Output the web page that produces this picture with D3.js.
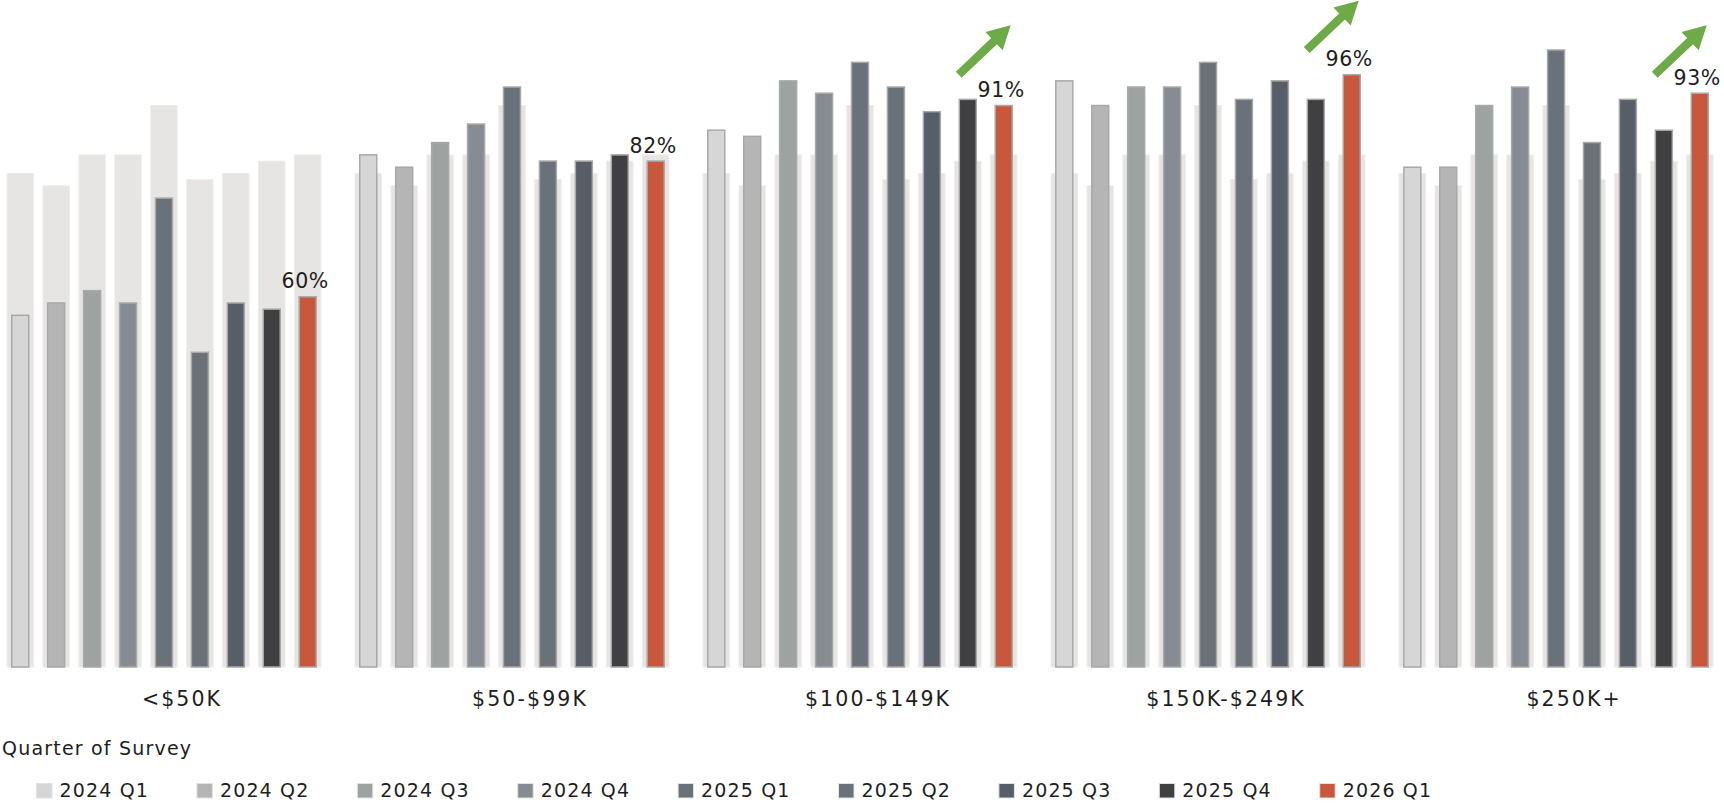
<!DOCTYPE html>
<html>
<head>
<meta charset="utf-8">
<script src="https://cdn.jsdelivr.net/npm/d3@7"></script>
<style>
  html, body { margin: 0; padding: 0; background: #fff; }
  svg { display: block; font-family: "DejaVu Sans", Verdana, sans-serif; }
</style>
</head>
<body>
<svg id="chart" width="1724" height="803"></svg>
<script>
// Income groups and survey quarters
const categories = ["<$50K", "$50-$99K", "$100-$149K", "$150K-$249K", "$250K+"];
const quarters = ["2024 Q1", "2024 Q2", "2024 Q3", "2024 Q4", "2025 Q1", "2025 Q2", "2025 Q3", "2025 Q4", "2026 Q1"];
const quarterColors = ["#d6d6d6", "#b4b5b4", "#9ea3a2", "#878b92", "#6a7179", "#6b7178", "#575e67", "#404042", "#c9573b"];

// All-respondent share per quarter (wide pale bars behind each group)
const overallShare = [80, 78, 83, 83, 91, 79, 80, 82, 83];

// Share per quarter for each income group (%)
const shareUnder50K   = [57, 59, 61, 59, 76, 51, 59, 58, 60];
const share50to99K    = [83, 81, 85, 88, 94, 82, 82, 83, 82];
const share100to149K  = [87, 86, 95, 93, 98, 94, 90, 92, 91];
const share150to249K  = [95, 91, 94, 94, 98, 92, 95, 92, 96];
const share250KPlus   = [81, 81, 91, 94, 100, 85, 92, 87, 93];
const groupShares = [shareUnder50K, share50to99K, share100to149K, share150to249K, share250KPlus];

// Upward-trend arrows (start / end in % units)
const risingGroups = [
  { category: "$100-$149K",  from: 96,  to: 104 },
  { category: "$150K-$249K", from: 100, to: 108 },
  { category: "$250K+",      from: 96,  to: 104 }
];

const legendTitle = "Quarter of Survey";

const svg = d3.select("#chart");
const baseY = 667;

const x0 = d3.scaleBand().domain(categories).range([7, 1713]).paddingInner(0.098).paddingOuter(0);
const x1 = d3.scaleBand().domain(quarters).range([0, x0.bandwidth()]).paddingInner(0.263).paddingOuter(0);
const y = d3.scaleLinear().domain([0, 100]).range([baseY, 50]);
const color = d3.scaleOrdinal().domain(quarters).range(quarterColors);

const rows = [];
categories.forEach((c, ci) => {
  quarters.forEach((q, qi) => {
    rows.push({ category: c, quarter: q, value: groupShares[ci][qi], overall: overallShare[qi] });
  });
});

const fgWidth = 17;

const groups = svg.append("g").selectAll("g.group")
  .data(categories)
  .join("g")
  .attr("class", "group")
  .attr("transform", c => `translate(${x0(c)},0)`);

// pale background bars
groups.selectAll("rect.bg")
  .data(c => rows.filter(r => r.category === c))
  .join("rect")
  .attr("class", "bg")
  .attr("x", d => x1(d.quarter))
  .attr("width", x1.bandwidth())
  .attr("y", d => y(d.overall))
  .attr("height", d => baseY - y(d.overall))
  .attr("fill", "#e6e5e3")
  .attr("stroke", "#eeedeb")
  .attr("stroke-width", 1);

// group bars
groups.selectAll("rect.fg")
  .data(c => rows.filter(r => r.category === c))
  .join("rect")
  .attr("class", "fg")
  .attr("x", d => x1(d.quarter) + x1.bandwidth() / 2 - fgWidth / 2)
  .attr("width", fgWidth)
  .attr("y", d => y(d.value))
  .attr("height", d => baseY - y(d.value))
  .attr("fill", d => color(d.quarter))
  .attr("stroke", "#a9a9a9")
  .attr("stroke-width", 1.5);

// value label on the latest quarter
const latest = quarters[quarters.length - 1];
groups.selectAll("text.value")
  .data(c => rows.filter(r => r.category === c && r.quarter === latest))
  .join("text")
  .attr("class", "value")
  .attr("x", d => x1(d.quarter) + x1.bandwidth() / 2 - 2.5)
  .attr("y", d => y(d.value) - 8.5)
  .attr("text-anchor", "middle")
  .attr("font-size", 20.5)
  .attr("letter-spacing", 0.6)
  .attr("fill", "#1e1e1e")
  .text(d => d.value + "%");

// category labels under each group
svg.append("g").selectAll("text.cat")
  .data(categories)
  .join("text")
  .attr("class", "cat")
  .attr("x", c => x0(c) + x0.step() / 2 + 1)
  .attr("y", 706)
  .attr("text-anchor", "middle")
  .attr("font-size", 20.5)
  .attr("letter-spacing", 2.1)
  .attr("fill", "#1e1e1e")
  .text(c => c);

// green trend arrows
const arrowPath = (x0p, y0p, x1p, y1p) => {
  const dx = x1p - x0p, dy = y1p - y0p;
  const len = Math.hypot(dx, dy);
  const ux = dx / len, uy = dy / len;
  const nx = -uy, ny = ux;
  const shaft = 4.2, head = 12.5, headLen = 23;
  const bx = x1p - ux * headLen, by = y1p - uy * headLen;
  const pts = [
    [x0p + nx * shaft, y0p + ny * shaft],
    [bx + nx * shaft, by + ny * shaft],
    [bx + nx * head, by + ny * head],
    [x1p, y1p],
    [bx - nx * head, by - ny * head],
    [bx - nx * shaft, by - ny * shaft],
    [x0p - nx * shaft, y0p - ny * shaft]
  ];
  return "M" + pts.map(p => p.join(",")).join("L") + "Z";
};

svg.append("g").selectAll("path.arrow")
  .data(risingGroups)
  .join("path")
  .attr("class", "arrow")
  .attr("d", d => {
    const cx = x0(d.category) + x1(latest) + x1.bandwidth() / 2;
    return arrowPath(cx - 45, y(d.from), cx + 7, y(d.to));
  })
  .attr("fill", "#6cab45");

// legend
const legend = svg.append("g");
legend.append("text")
  .attr("x", 2)
  .attr("y", 755)
  .attr("font-size", 19)
  .attr("letter-spacing", 1.2)
  .attr("fill", "#1e1e1e")
  .text(legendTitle);

const items = legend.selectAll("g.item")
  .data(quarters)
  .join("g")
  .attr("class", "item")
  .attr("transform", (q, i) => `translate(${36 + i * 160.4},0)`);

items.append("rect")
  .attr("x", 0.5)
  .attr("y", 783.5)
  .attr("width", 15.5)
  .attr("height", 14.5)
  .attr("fill", q => color(q))
  .attr("stroke", "#e3e3e3")
  .attr("stroke-width", 1);

items.append("text")
  .attr("x", 23.5)
  .attr("y", 796.7)
  .attr("font-size", 19)
  .attr("letter-spacing", 1.15)
  .attr("fill", "#1e1e1e")
  .text(q => q);
</script>
</body>
</html>
